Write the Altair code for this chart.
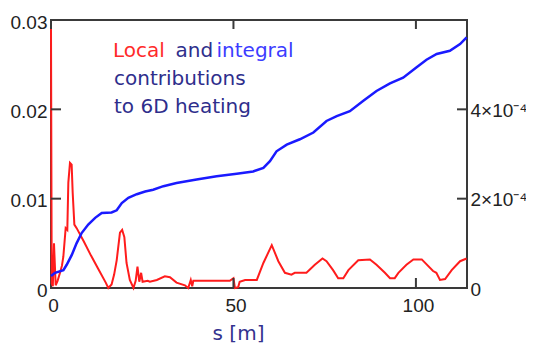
import altair as alt
import pandas as pd

# ---- data ----
red_s = [0.0, 0.2, 0.5, 0.82, 1.28, 1.8, 2.47, 3.0, 3.38, 4.02, 4.47, 4.75, 5.2, 5.66, 5.94, 6.4, 7.03,
         9.0, 11.0, 13.0, 15.0, 15.7, 16.6, 17.3, 18.0, 18.9, 19.5, 20.1, 20.7, 21.6, 22.6, 23.2, 23.7,
         24.2, 24.7, 25.1, 26.5, 27.1, 29.0, 31.2, 32.6, 34.4, 36.7, 37.6, 38.3, 38.7, 39.0, 44.0, 49.0,
         50.0, 50.4, 51.3, 51.7, 53.2, 56.4, 58.2, 60.5, 62.3, 64.1, 65.9, 66.8, 70.0, 72.3, 74.4, 75.5,
         77.3, 78.7, 80.1, 81.5, 84.2, 87.4, 89.2, 91.5, 92.9, 94.2, 95.2, 97.4, 99.3, 101.6, 104.7,
         105.6, 106.6, 108.0, 109.8, 112.1, 113.9]
red_v = [0.029, 0.0005, 0.0002, 0.005, 0.0003, 0.0008, 0.0017, 0.0025, 0.0035, 0.0067, 0.0065, 0.0118,
         0.014, 0.0138, 0.0107, 0.0071, 0.0067, 0.0052, 0.0036, 0.0021, 0.0006, 0.0, 0.0004, 0.0015,
         0.0031, 0.0062, 0.0065, 0.0057, 0.0028, 0.0009, 0.0, 0.0008, 0.0024, 0.0007, 0.0017, 0.0007,
         0.0008, 0.0007, 0.0009, 0.0013, 0.0012, 0.0006, 0.0003, 0.0, 0.0009, 0.0002, 0.0008, 0.0008,
         0.0008, 0.0011, 0.0, 0.0001, 0.0007, 0.0009, 0.0009, 0.0028, 0.0048, 0.003, 0.0017, 0.0015,
         0.0017, 0.0017, 0.0026, 0.0033, 0.003, 0.002, 0.0011, 0.0011, 0.002, 0.0031, 0.0032, 0.0026,
         0.0017, 0.0011, 0.0011, 0.0017, 0.0026, 0.0032, 0.0032, 0.0019, 0.0017, 0.0009, 0.001, 0.002,
         0.003, 0.0033]

blue_s = [0.0, 1.1, 3.4, 4.3, 5.7, 7.0, 8.4, 10.2, 12.1, 13.9, 16.6, 18.0, 19.4, 21.2, 23.5, 25.8, 28.0,
          30.8, 34.4, 39.9, 45.4, 50.9, 55.4, 58.2, 60.0, 61.8, 64.6, 68.2, 71.9, 75.5, 78.3, 81.9, 85.6,
          89.2, 92.9, 96.5, 100.2, 102.9, 105.7, 109.3, 112.1, 113.9]
blue_v = [2.7e-5, 3.4e-5, 4.0e-5, 5.2e-5, 7.4e-5, 1.0e-4, 1.23e-4, 1.42e-4, 1.57e-4, 1.68e-4, 1.69e-4,
          1.74e-4, 1.9e-4, 2.02e-4, 2.1e-4, 2.16e-4, 2.2e-4, 2.28e-4, 2.35e-4, 2.43e-4, 2.5e-4, 2.56e-4,
          2.61e-4, 2.69e-4, 2.84e-4, 3.06e-4, 3.21e-4, 3.33e-4, 3.48e-4, 3.74e-4, 3.85e-4, 3.96e-4,
          4.19e-4, 4.41e-4, 4.58e-4, 4.71e-4, 4.94e-4, 5.11e-4, 5.24e-4, 5.31e-4, 5.46e-4, 5.61e-4]

x_ticks = [0, 50, 100]
left_ticks = [0, 0.01, 0.02, 0.03]
right_ticks = [0, 2e-4, 4e-4]

W, H = 416, 268
X_DOM = [0, 114]
L_DOM = [0, 0.03]
R_DOM = [0, 6e-4]

red_df = pd.DataFrame({"s": red_s, "v": red_v})
blue_df = pd.DataFrame({"s": blue_s, "v": blue_v})
one = pd.DataFrame({"d": [0]})

LBL = dict(labelFont="Liberation Sans", labelFontSize=19, labelColor="#222222",
           labelFlush=False, labelBound=False, labelOverlap=False,
           domain=False, tickSize=0, grid=False)

xs = lambda: alt.Scale(domain=X_DOM, nice=False, zero=False)
ls = lambda: alt.Scale(domain=L_DOM, nice=False)
rs = lambda: alt.Scale(domain=R_DOM, nice=False)

red = alt.Chart(red_df).mark_line(color="#ff1c1c", strokeWidth=2).encode(
    x=alt.X("s:Q", scale=xs(), axis=alt.Axis(
        values=x_ticks, orient="bottom", labelPadding=8, labelBaseline="top", labelOffset=2,
        title="s [m]", titleFont="DejaVu Sans", titleFontSize=20, titleFontWeight="normal",
        titleColor="#33338f", titleX=187, titleY=51, titleBaseline="alphabetic", titleAlign="center",
        **LBL)),
    y=alt.Y("v:Q", scale=ls(), axis=alt.Axis(
        values=left_ticks, orient="left", labelPadding=4, labelOffset=2, title=None,
        labelExpr="datum.value == 0 ? '0' : format(datum.value, '.2f')", **LBL)),
)

blue = alt.Chart(blue_df).mark_line(color="#1a1aff", strokeWidth=2.5).encode(
    x=alt.X("s:Q", scale=xs(), axis=None),
    y=alt.Y("v:Q", scale=rs(), axis=alt.Axis(
        values=right_ticks, orient="right", labelPadding=3, labelOffset=1, title=None,
        labelExpr="datum.value == 0 ? '0' : format(datum.value * 10000, 'd') + '×10⁻⁴'", **LBL)),
)

tick_col = "#3a3a3a"
xt = pd.DataFrame({"t": [50, 100]})
lt = pd.DataFrame({"t": [0.01, 0.02]})
rt = pd.DataFrame({"t": [2e-4, 4e-4]})

xt_bot = alt.Chart(xt).mark_rule(color=tick_col, strokeWidth=2).encode(
    x=alt.X("t:Q", scale=xs(), axis=None), y=alt.value(H), y2=alt.value(H - 10))
xt_top = alt.Chart(xt).mark_rule(color=tick_col, strokeWidth=2).encode(
    x=alt.X("t:Q", scale=xs(), axis=None), y=alt.value(0), y2=alt.value(9))
lt_r = alt.Chart(lt).mark_rule(color=tick_col, strokeWidth=2).encode(
    y=alt.Y("t:Q", scale=ls(), axis=None), x=alt.value(0), x2=alt.value(10))
rt_r = alt.Chart(rt).mark_rule(color=tick_col, strokeWidth=2).encode(
    y=alt.Y("t:Q", scale=rs(), axis=None), x=alt.value(W), x2=alt.value(W - 10))

navy = "#2e2e8c"
def word(txt, x, y, color):
    return alt.Chart(one).mark_text(
        font="DejaVu Sans", fontSize=20, align="left", baseline="alphabetic", color=color
    ).encode(x=alt.value(x), y=alt.value(y), text=alt.value(txt))

texts = [
    word("Local", 62, 37, "#ff2a2a"),
    word("and", 124.5, 37, navy),
    word("integral", 165.5, 37, "#3c3cff"),
    word("contributions", 63, 65, navy),
    word("to 6D heating", 63, 93, navy),
]

chart = alt.layer(red, blue, xt_bot, xt_top, lt_r, rt_r, *texts).resolve_scale(
    x="independent", y="independent"
).properties(
    width=W, height=H,
    autosize=alt.AutoSizeParams(type="none"),
    padding={"left": 43, "top": 12, "right": 59, "bottom": 55},
    background="white",
).configure_view(stroke="#3a3a3a", strokeWidth=2)

chart.save("out.html", embed_options={"renderer": "svg", "actions": False})
